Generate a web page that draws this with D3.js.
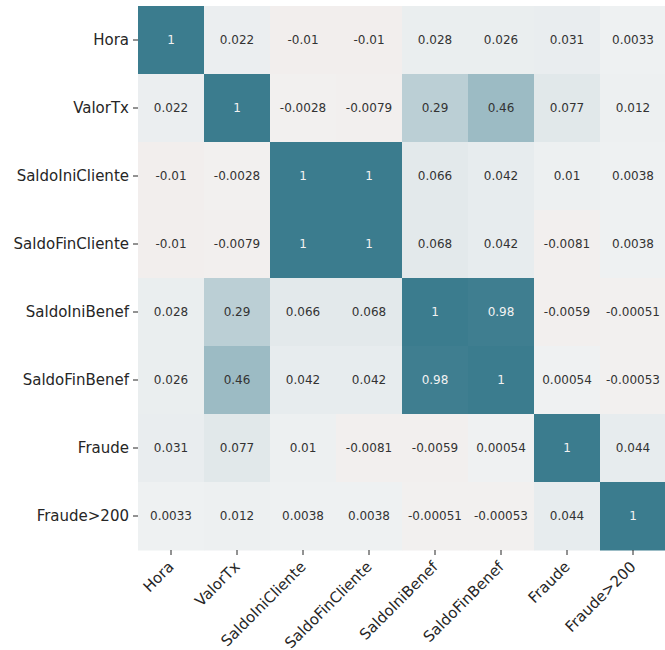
<!DOCTYPE html>
<html>
<head>
<meta charset="utf-8">
<script src="https://cdn.jsdelivr.net/npm/d3@7"></script>
<style>
  body { margin: 0; background: #fff; }
  svg text { font-family: "DejaVu Sans", sans-serif; }
</style>
</head>
<body>
<svg id="chart" width="665" height="650"></svg>
<script>
// variables (same order on both axes)
var variables = ["Hora", "ValorTx", "SaldoIniCliente", "SaldoFinCliente", "SaldoIniBenef", "SaldoFinBenef", "Fraude", "Fraude>200"];

// correlation matrix, row by row
var rowHora            = [1, 0.022, -0.01, -0.01, 0.028, 0.026, 0.031, 0.0033];
var rowValorTx         = [0.022, 1, -0.0028, -0.0079, 0.29, 0.46, 0.077, 0.012];
var rowSaldoIniCliente = [-0.01, -0.0028, 1, 1, 0.066, 0.042, 0.01, 0.0038];
var rowSaldoFinCliente = [-0.01, -0.0079, 1, 1, 0.068, 0.042, -0.0081, 0.0038];
var rowSaldoIniBenef   = [0.028, 0.29, 0.066, 0.068, 1, 0.98, -0.0059, -0.00051];
var rowSaldoFinBenef   = [0.026, 0.46, 0.042, 0.042, 0.98, 1, 0.00054, -0.00053];
var rowFraude          = [0.031, 0.077, 0.01, -0.0081, -0.0059, 0.00054, 1, 0.044];
var rowFraude200       = [0.0033, 0.012, 0.0038, 0.0038, -0.00051, -0.00053, 0.044, 1];

var matrix = [rowHora, rowValorTx, rowSaldoIniCliente, rowSaldoFinCliente,
              rowSaldoIniBenef, rowSaldoFinBenef, rowFraude, rowFraude200];

var cells = [];
matrix.forEach(function(row, i) {
    row.forEach(function(v, j) {
        cells.push({row: variables[i], col: variables[j], value: v});
    });
});

var svg = d3.select("#chart");

var plotLeft = 138, plotTop = 6, cellW = 66, cellH = 68;

var x = d3.scaleBand().domain(variables).range([plotLeft, plotLeft + cellW * variables.length]);
var y = d3.scaleBand().domain(variables).range([plotTop, plotTop + cellH * variables.length]);

// diverging palette, like sns.diverging_palette(20, 220)
var posScale = d3.scaleLinear().domain([0, 1]).range(["#eff1f2", "#3b7c8e"]).interpolate(d3.interpolateRgb);
var negScale = d3.scaleLinear().domain([0, 1]).range(["#f2f0ef", "#c45653"]).interpolate(d3.interpolateRgb);
function color(v) {
    return v >= 0 ? posScale(v) : negScale(-v);
}
function textColor(v) {
    var c = d3.rgb(color(v));
    var lum = 0.2126 * c.r + 0.7152 * c.g + 0.0722 * c.b;
    return lum < 140 ? "#f2f2f2" : "#333333";
}

var g = svg.append("g");

g.selectAll("rect")
    .data(cells)
    .enter()
    .append("rect")
    .attr("x", function(d) { return x(d.col); })
    .attr("y", function(d) { return y(d.row); })
    .attr("width", x.bandwidth() + 0.5)
    .attr("height", y.bandwidth() + 0.5)
    .attr("fill", function(d) { return color(d.value); });

g.selectAll("text.annot")
    .data(cells)
    .enter()
    .append("text")
    .attr("class", "annot")
    .attr("x", function(d) { return x(d.col) + x.bandwidth() / 2; })
    .attr("y", function(d) { return y(d.row) + y.bandwidth() / 2; })
    .attr("text-anchor", "middle")
    .attr("dy", "0.35em")
    .style("font-size", "12px")
    .attr("fill", function(d) { return textColor(d.value); })
    .text(function(d) { return String(d.value); });

// y axis
var yAxis = svg.append("g")
    .attr("transform", "translate(" + plotLeft + ",0)")
    .call(d3.axisLeft(y).tickSize(5).tickPadding(4));
yAxis.select(".domain").remove();
yAxis.selectAll("text").style("font-size", "15px").attr("fill", "#262626");
yAxis.selectAll("line").attr("stroke", "#262626");

// x axis, labels turned 45 degrees
var xBottom = plotTop + cellH * variables.length;
var xAxis = svg.append("g")
    .attr("transform", "translate(0," + xBottom + ")")
    .call(d3.axisBottom(x).tickSize(5).tickPadding(4));
xAxis.select(".domain").remove();
xAxis.selectAll("line").attr("stroke", "#262626");
xAxis.selectAll("text")
    .style("font-size", "15px")
    .attr("fill", "#262626")
    .attr("text-anchor", "end")
    .attr("dy", "0.35em")
    .attr("transform", "translate(0,14) rotate(-45)")
    .attr("x", 0)
    .attr("y", 0);
</script>
</body>
</html>
